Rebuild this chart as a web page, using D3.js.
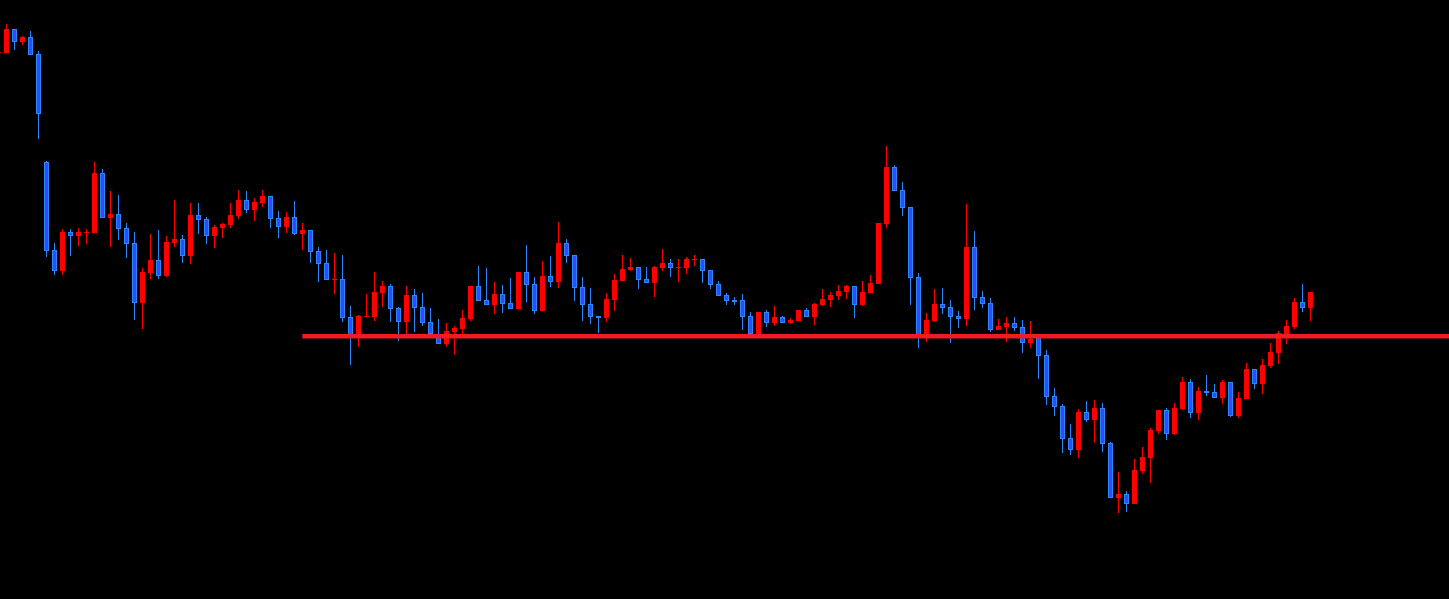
<!DOCTYPE html>
<html lang="en">
  <head>
    <meta charset="utf-8">
    <title>Candles</title>
    <script src="https://d3js.org/d3.v7.min.js"></script>
    <style>
      html, body { margin: 0; padding: 0; background: #000; overflow: hidden; }
    </style>
  </head>
  <body>
    <svg id="chart" width="1449" height="599"></svg>
    <script>
      // one entry per bar, oldest first (first bar is cut by the left edge)
      var opens = [
        546.7, 547.3, 571, 558.3, 563, 546, 438, 350, 329.3, 368,
        364.3, 367.3, 367.3, 427, 382.3, 386, 372, 357, 297.3, 327.3,
        340, 324.3, 357, 361, 344.3, 385, 381, 364.3, 372.3, 375.3,
        384.3, 400, 390.3, 397, 404, 382, 373.3, 383, 366.3, 370,
        349, 337, 320, 321, 283, 265, 282.7, 282.7, 307, 314,
        292, 278.3, 305, 293, 278, 264, 256.3, 268, 271, 281,
        314, 300, 295, 306, 297, 291, 328, 316, 289.3, 324,
        318.3, 357, 345, 313, 296, 284, 282.3, 300.3, 319.3, 330.3,
        333, 321, 317.3, 332.3, 337, 332, 332.3, 340, 341, 330,
        316, 305, 300, 300, 284, 266, 288, 277.3, 283, 277.3,
        279, 290, 283.3, 295, 300, 304, 308, 314, 295, 307,
        316, 376, 433, 410, 393, 323, 263.3, 279.3, 296, 293,
        284, 281.3, 353, 303, 297, 270.3, 273, 277, 273, 257.3,
        263, 245, 204, 194, 162, 150.3, 188, 180.3, 192, 157,
        102.3, 106, 96.3, 129.3, 142.3, 169.3, 190, 166.3, 191.3, 218,
        187.3, 209, 208, 202.3, 218, 184.3, 201.3, 231, 216.3, 234.3,
        247, 266, 273.3, 298, 292.3
      ];
      var highs = [
        555, 576, 571, 564.3, 569, 549, 439, 357, 371, 371,
        372, 371, 438, 431, 409, 405, 377, 368, 332, 366,
        370, 364, 400, 365, 397, 397, 383, 375, 377, 397,
        410, 409, 402, 410, 404, 389, 388, 399, 377, 370,
        353, 350, 347, 345, 294, 285.3, 306.3, 328, 319, 316,
        293, 314, 311, 307, 292, 281, 277, 274, 290, 314,
        334, 332, 318, 315, 322, 328, 355, 323, 339, 344,
        378, 361, 345, 323, 312, 284, 307, 326, 345, 342,
        333, 333, 334, 351, 341, 341, 343, 345, 341, 330,
        319, 306.7, 303, 306, 288, 288, 290, 294, 284, 282,
        290, 292, 297, 311, 308, 315, 315, 314, 319, 325,
        377, 454, 435, 418, 393, 327, 287, 311, 312, 300,
        289, 396, 369, 309, 302, 281, 283, 283, 280, 279,
        264, 250, 212, 196, 176, 191, 199, 200, 197, 158,
        128, 109, 141, 153, 172, 190, 192, 197, 223, 221,
        213, 225, 216, 220, 218, 208, 237, 231, 241, 257,
        269, 280, 302, 316, 308
      ];
      var lows = [
        546, 547.3, 550.3, 555, 545.3, 461.3, 343.3, 325, 325, 344.3,
        354.3, 356.3, 367.3, 382.3, 353, 360.3, 342.3, 280.3, 271.3, 321.3,
        321.3, 323.3, 353, 337.3, 336.3, 366, 356, 352, 362, 372,
        381, 387, 379, 393, 372.3, 362.3, 367.3, 365.3, 350.3, 337.3,
        318.3, 320.3, 306.3, 278.3, 235.3, 253.3, 282.7, 279.3, 293, 278.3,
        259.3, 265, 268.3, 274.3, 265, 256.3, 253.3, 245.3, 266, 279,
        299.3, 295.3, 286.3, 287.3, 291.3, 291, 298.3, 286.3, 289.3, 313.3,
        312.3, 337.3, 299.3, 279.3, 276.3, 267.3, 278.3, 289.3, 319.3, 329.3,
        311.3, 317.3, 303.3, 329.3, 323.3, 318.3, 326.3, 334, 317.3, 311.3,
        304.3, 295.3, 295.3, 270.3, 266, 266, 273.3, 274.3, 277.3, 276.3,
        279, 283.3, 275, 294, 293, 300, 301, 282, 294, 307,
        316, 372, 409, 384, 295, 252.3, 258.3, 278.3, 286.3, 257.3,
        272.3, 274.3, 290.3, 292.3, 268.3, 270.3, 258.3, 269.3, 247.3, 252.3,
        221.3, 195.3, 184.3, 147.3, 145.3, 142.3, 178.3, 157.3, 148.3, 102.3,
        87.3, 88.3, 96.3, 126.3, 117.3, 166.3, 160.3, 165.3, 190.3, 182.3,
        180.3, 204.3, 202.3, 196.3, 183.3, 182.3, 201.3, 211.3, 206.3, 232.3,
        236.3, 256.3, 271.3, 288.3, 279.3
      ];
      var closes = [
        548.3, 571, 558.3, 563, 545.3, 486.3, 349.3, 329.3, 368, 364.3,
        368, 368.3, 427, 382.3, 386, 371.3, 356.3, 297.3, 328, 340,
        324.3, 358, 361, 344.3, 385, 380.3, 364.3, 373, 376, 385,
        400, 390.3, 398, 404, 381.3, 373.3, 383, 366.3, 370, 348.3,
        336.3, 320.3, 321, 282.3, 265, 284.3, 284.3, 308, 314, 291.3,
        278.3, 305, 292.3, 277.3, 266, 256.3, 269, 272, 282, 314,
        299.3, 295.3, 306, 296.3, 291.3, 328, 315.3, 289.3, 324, 318.3,
        357, 344.3, 312.3, 295.3, 283.3, 282.3, 301, 320, 331, 333,
        320.3, 317.3, 333, 337, 332.3, 333, 341, 341, 329.3, 315.3,
        304.3, 299.3, 298.3, 283.3, 266, 288, 277.3, 283, 277.3, 280,
        290, 283.3, 296, 301, 305, 309, 314, 295, 308, 317,
        377, 433, 409, 392, 322, 263.3, 280, 296, 292.3, 283.3,
        281.3, 353, 302.3, 296.3, 270.3, 274.3, 277, 272.3, 257.3, 261.3,
        244.3, 203.3, 193.3, 161.3, 150.3, 188, 180.3, 192, 156.3, 102.3,
        106, 96.3, 130, 143, 170, 190, 166.3, 192, 218, 187.3,
        209, 207.3, 202.3, 218, 184.3, 202.3, 231, 216.3, 235, 248,
        267, 274, 298, 292.3, 308
      ];
      // horizontal level, drawn from this bar to the right edge
      var levelPrice = 263.7;
      var levelFrom = 38;

      var width = 1449, height = 599;
      var upColor = "#ff0000", downFill = "#3349ff", downEdge = "#2a88ff";

      var bars = opens.map(function(o, i) {
        return { i: i, o: o, h: highs[i], l: lows[i], c: closes[i] };
      });

      var x = d3.scaleLinear().domain([0, 164]).range([-1.7, 1310.3]);
      var y = d3.scaleLinear().domain([0, 600]).range([600, 0]);

      var svg = d3.select("#chart");
      svg.append("rect").attr("width", width).attr("height", height).attr("fill", "#000");

      var g = svg.append("g").attr("shape-rendering", "crispEdges");

      var candle = g.selectAll("g.bar").data(bars).enter().append("g").attr("class", "bar");

      candle.append("line")
        .attr("x1", function(d) { return Math.round(x(d.i)) + 0.5; })
        .attr("x2", function(d) { return Math.round(x(d.i)) + 0.5; })
        .attr("y1", function(d) { return y(d.h); })
        .attr("y2", function(d) { return y(d.l); })
        .attr("stroke", function(d) { return d.c >= d.o ? upColor : downEdge; })
        .attr("stroke-width", 1);

      candle.filter(function(d) { return d.c >= d.o; }).append("rect")
        .attr("x", function(d) { return Math.round(x(d.i)) - 2; })
        .attr("width", 5)
        .attr("y", function(d) { return y(d.c); })
        .attr("height", function(d) { return Math.max(1, y(d.o) - y(d.c)); })
        .attr("fill", upColor);

      candle.filter(function(d) { return d.c < d.o; }).append("rect")
        .attr("x", function(d) { return Math.round(x(d.i)) - 1.5; })
        .attr("width", 4)
        .attr("y", function(d) { return y(d.o) + 0.5; })
        .attr("height", function(d) { return Math.max(0.5, y(d.c) - y(d.o) - 1); })
        .attr("fill", downFill)
        .attr("stroke", downEdge)
        .attr("stroke-width", 1);

      svg.append("line")
        .attr("x1", x(levelFrom)).attr("x2", width)
        .attr("y1", y(levelPrice)).attr("y2", y(levelPrice))
        .attr("stroke", "#ee1c25")
        .attr("stroke-width", 4.5);
    </script>
  </body>
</html>
